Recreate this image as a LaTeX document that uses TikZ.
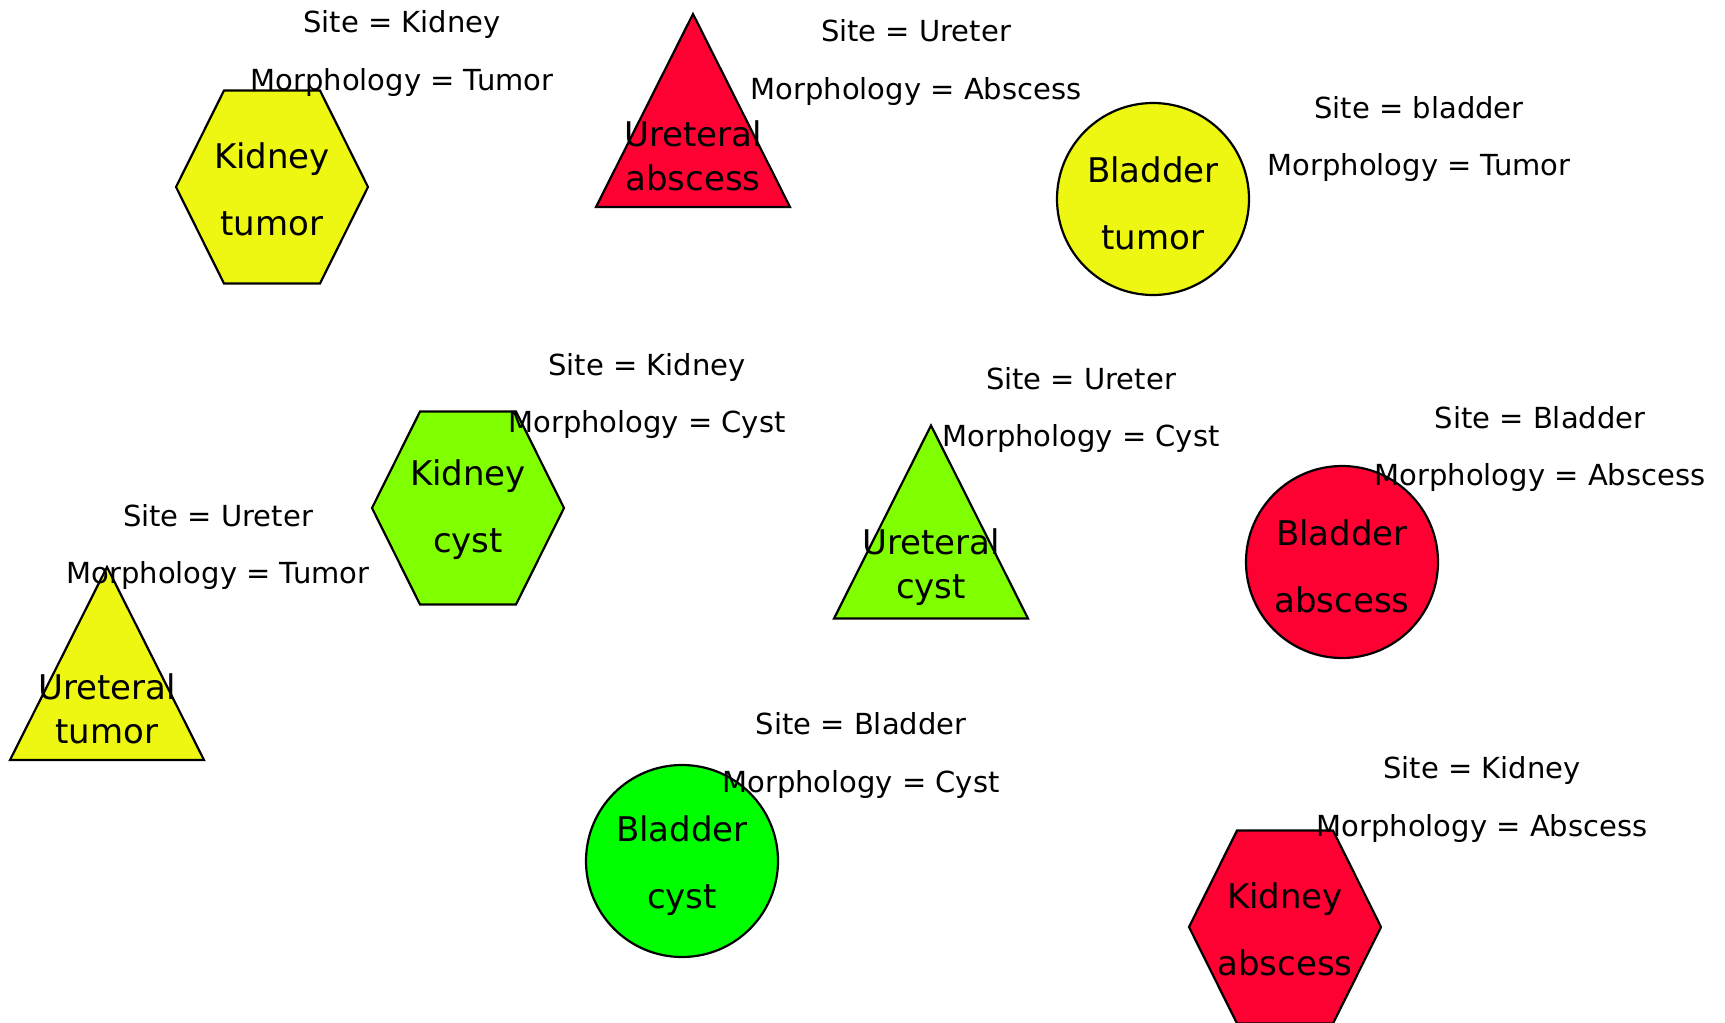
\documentclass[tikz,border=0pt]{standalone}
\usepackage{fontspec}
\setmainfont{DejaVu Sans}
\definecolor{yel}{HTML}{EEF712}
\definecolor{absred}{HTML}{FF0033}
\definecolor{cystlime}{HTML}{80FF00}
\definecolor{cystgreen}{HTML}{00FF00}
\begin{document}
\begin{tikzpicture}[x=1pt,y=-1pt,
  shapeline/.style={draw=black, line width=2.2pt, line join=miter},
  intext/.style={font=\fontsize{34}{67}\selectfont, align=center, inner sep=0pt},
  tritext/.style={font=\fontsize{34}{44}\selectfont, align=center, inner sep=0pt},
  attr/.style={font=\fontsize{29}{57.5}\selectfont, align=center, inner sep=0pt},
  ball/.style={circle, shapeline, minimum size=192pt, inner sep=0pt},
  pics/hexa/.style 2 args={code={
    \draw[shapeline, fill=#1] (-96,0) -- (-48,-96.5) -- (48,-96.5) -- (96,0) -- (48,96.5) -- (-48,96.5) -- cycle;
    \node[intext] (-t) at (0,2) {#2};
  }},
  pics/tri/.style 2 args={code={
    \draw[shapeline, fill=#1] (0,-96.5) -- (97,96.5) -- (-97,96.5) -- cycle;
    \node[tritext] (-t) at (0,45) {#2};
  }}]
\useasboundingbox (0,0) rectangle (1725,1023);

% shapes
\pic (kt) at (272,187) {hexa={yel}{Kidney\\tumor}};
\pic (ua) at (693,110.5) {tri={absred}{Ureteral\\abscess}};
\node[ball, fill=yel] (bt) at (1153,199) {};
\node[intext] (btt) at ([yshift=-4.5pt]bt.center) {Bladder\\tumor};
\pic (kc) at (468,508) {hexa={cystlime}{Kidney\\cyst}};
\pic (uc) at (931,522) {tri={cystlime}{Ureteral\\cyst}};
\node[ball, fill=absred] (ba) at (1342,562) {};
\node[intext] (bat) at ([yshift=-4.5pt]ba.center) {Bladder\\abscess};
\pic (ut) at (107,663.5) {tri={yel}{Ureteral\\tumor}};
\node[ball, fill=cystgreen] (bc) at (682,861) {};
\node[intext] (bct) at ([yshift=-4.5pt]bc.center) {Bladder\\cyst};
\pic (ka) at (1285,927) {hexa={absred}{Kidney\\abscess}};

% attribute labels
\node[attr] (lkt) at (402,53.5) {Site = Kidney\\Morphology = Tumor};
\node[attr] (lua) at (916,62.5) {Site = Ureter\\Morphology = Abscess};
\node[attr] (lbt) at (1419,139) {Site = bladder\\Morphology = Tumor};
\node[attr] (lkc) at (647,396) {Site = Kidney\\Morphology = Cyst};
\node[attr] (luc) at (1081,410) {Site = Ureter\\Morphology = Cyst};
\node[attr] (lba) at (1540,449) {Site = Bladder\\Morphology = Abscess};
\node[attr] (lut) at (218,547) {Site = Ureter\\Morphology = Tumor};
\node[attr] (lbc) at (861,755.5) {Site = Bladder\\Morphology = Cyst};
\node[attr] (lka) at (1482,799.5) {Site = Kidney\\Morphology = Abscess};
\end{tikzpicture}
\end{document}
